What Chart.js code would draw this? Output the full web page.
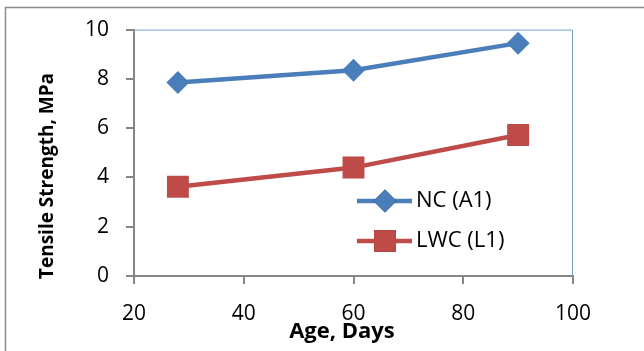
<!DOCTYPE html>
<html lang="en">
<head>
    <meta charset="UTF-8">
    <title>Tensile Strength vs Age</title>
    <script src="https://cdn.jsdelivr.net/npm/chart.js"></script>
    <style>
        body { margin: 0; background: #fff; }
        #strengthChart { display: block; }
    </style>
</head>
<body>
    <canvas id="strengthChart" width="644" height="351"></canvas>

    <script>
        // data
        const ages = [28, 60, 90];
        const ncStrength = [7.85, 8.35, 9.45];
        const lwcStrength = [3.62, 4.4, 5.72];
        const seriesNames = ['NC (A1)', 'LWC (L1)'];
        const yTitle = 'Tensile Strength, MPa';
        const xTitle = 'Age, Days';

        const blue = '#4A7EBB';
        const red = '#BE4B48';
        const axisGray = '#868686';
        const fontFamily = '"Open Sans", Lato, sans-serif';

        const toPoints = (vals) => ages.map((a, i) => ({ x: a, y: vals[i] }));

        // outer frame, plot border, axis titles and the inside legend
        const extras = {
            id: 'extras',
            beforeDraw(chart) {
                const c = chart.ctx;
                c.save();
                c.strokeStyle = '#8c8c8c';
                c.lineWidth = 1.5;
                c.beginPath();
                c.moveTo(5.5, 351);
                c.lineTo(5.5, 7.5);
                c.lineTo(644, 7.5);
                c.stroke();
                c.restore();
            },
            afterDraw(chart) {
                const c = chart.ctx;
                const a = chart.chartArea;
                c.save();
                c.strokeStyle = '#7a9fd0';
                c.lineWidth = 1;
                c.beginPath();
                c.moveTo(a.left, a.top + 0.5);
                c.lineTo(a.right - 0.5, a.top + 0.5);
                c.lineTo(a.right - 0.5, a.bottom);
                c.stroke();

                c.fillStyle = '#000';
                c.textAlign = 'center';
                c.textBaseline = 'middle';
                // x axis title
                c.font = 'bold 22px ' + fontFamily;
                c.fillText(xTitle, 342, 332);
                // y axis title
                c.font = 'bold 19px ' + fontFamily;
                c.translate(48, 176);
                c.rotate(-Math.PI / 2);
                c.fillText(yTitle, 0, 0);
                c.restore();

                // legend
                const rows = [201, 241];
                chart.data.datasets.forEach((ds, i) => {
                    const y = rows[i];
                    c.save();
                    c.strokeStyle = ds.borderColor;
                    c.lineWidth = ds.borderWidth;
                    c.beginPath();
                    c.moveTo(357, y);
                    c.lineTo(412, y);
                    c.stroke();
                    Chart.helpers.drawPoint(c, {
                        pointStyle: ds.pointStyle,
                        radius: ds.pointRadius,
                        borderWidth: 0
                    }, 385, y);
                    c.fillStyle = ds.backgroundColor;
                    c.fill();
                    c.fillStyle = '#000';
                    c.font = '22px ' + fontFamily;
                    c.textAlign = 'left';
                    c.textBaseline = 'middle';
                    c.fillText(ds.label, 416, y);
                    c.restore();
                });
            }
        };

        const ctx = document.getElementById('strengthChart').getContext('2d');

        new Chart(ctx, {
            type: 'line',
            data: {
                datasets: [{
                    label: seriesNames[0],
                    data: toPoints(ncStrength),
                    borderColor: blue,
                    backgroundColor: blue,
                    borderWidth: 4.5,
                    pointStyle: 'rectRot',
                    pointRadius: 11.5,
                    pointBorderWidth: 0,
                    pointHoverRadius: 11.5,
                    tension: 0
                }, {
                    label: seriesNames[1],
                    data: toPoints(lwcStrength),
                    borderColor: red,
                    backgroundColor: red,
                    borderWidth: 4.5,
                    pointStyle: 'rect',
                    pointRadius: 15.5,
                    pointBorderWidth: 0,
                    pointHoverRadius: 15.5,
                    tension: 0
                }]
            },
            options: {
                responsive: false,
                animation: false,
                layout: { padding: { left: 0, top: 28, right: 71, bottom: 0 } },
                plugins: {
                    legend: { display: false },
                    tooltip: { enabled: false }
                },
                scales: {
                    x: {
                        type: 'linear',
                        min: 20,
                        max: 100,
                        ticks: {
                            stepSize: 20,
                            color: '#000',
                            padding: 17,
                            font: { family: fontFamily, size: 21 }
                        },
                        grid: {
                            drawOnChartArea: false,
                            tickLength: 8,
                            color: axisGray,
                            lineWidth: 2
                        },
                        border: { color: axisGray, width: 2 },
                        afterFit(scale) { scale.height = 75; }
                    },
                    y: {
                        min: 0,
                        max: 10,
                        ticks: {
                            stepSize: 2,
                            color: '#000',
                            padding: 17,
                            font: { family: fontFamily, size: 21 }
                        },
                        grid: {
                            drawOnChartArea: false,
                            tickLength: 8,
                            color: axisGray,
                            lineWidth: 2
                        },
                        border: { color: axisGray, width: 2 },
                        afterFit(scale) { scale.width = 134; }
                    }
                }
            },
            plugins: [extras]
        });
    </script>
</body>
</html>
